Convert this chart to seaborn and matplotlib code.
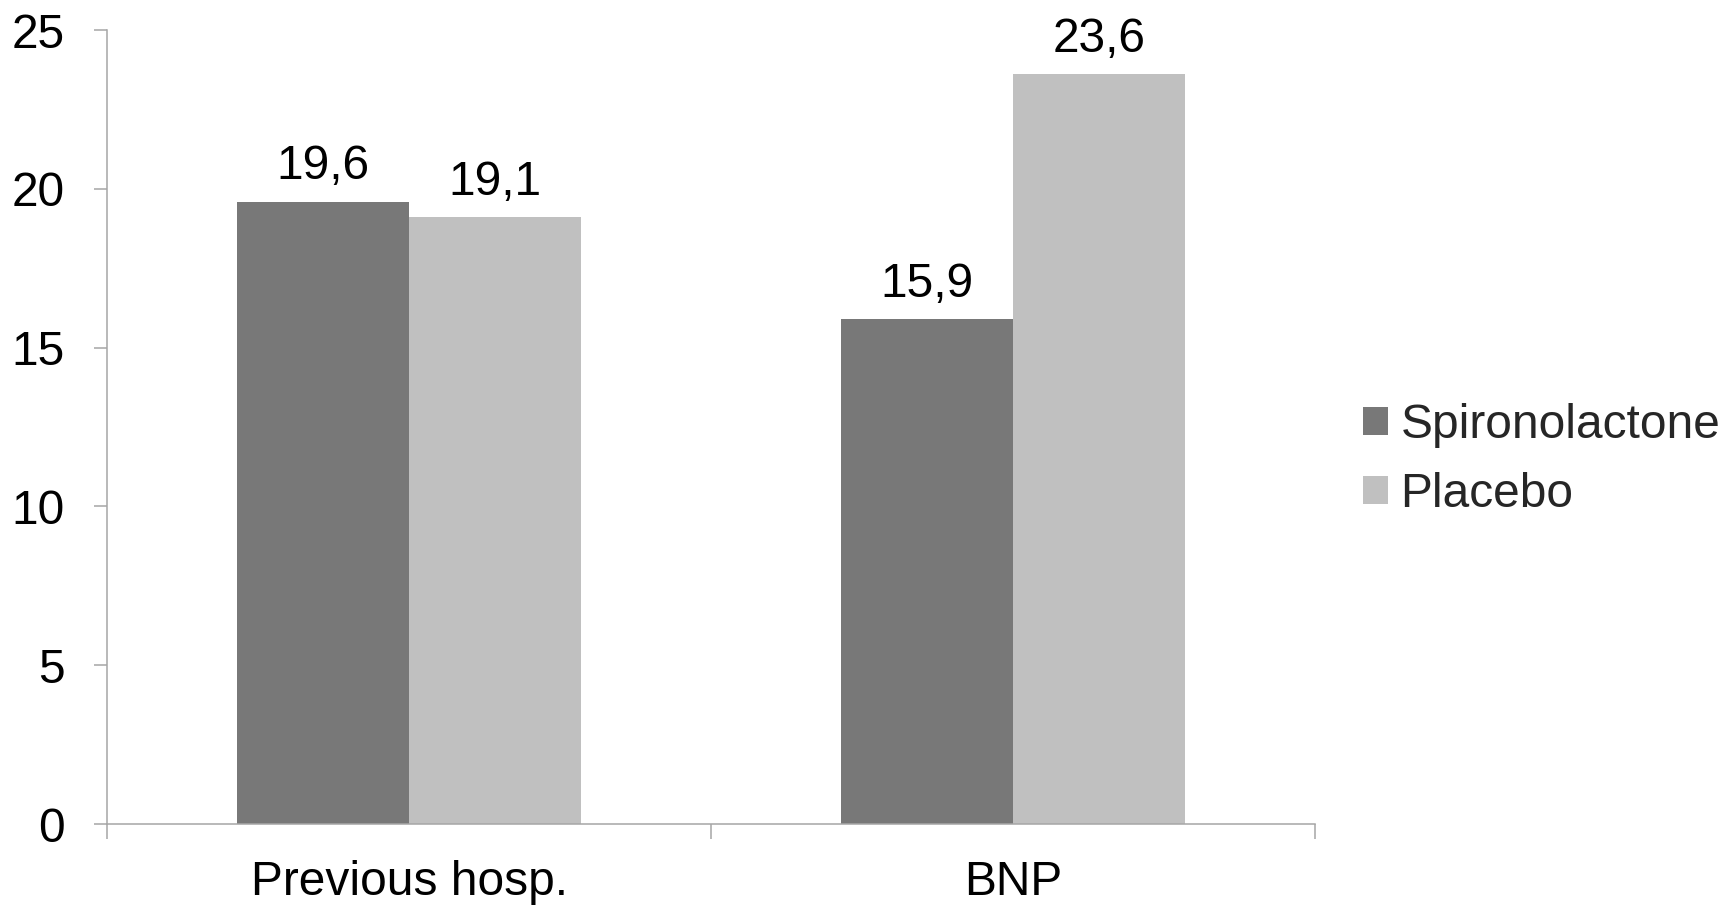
import matplotlib
matplotlib.use("Agg")
import matplotlib.pyplot as plt
import seaborn as sns
import pandas as pd

categories = ["Previous hosp.", "BNP"]
groups = ["Spironolactone", "Placebo"]
spironolactone = [19.6, 15.9]
placebo = [19.1, 23.6]
yticks = [0, 5, 10, 15, 20, 25]

sns.set_theme(style="white")
plt.rcParams["font.family"] = ["Liberation Sans", "DejaVu Sans"]

df = pd.DataFrame({
    "category": categories * 2,
    "group": [groups[0]] * 2 + [groups[1]] * 2,
    "value": spironolactone + placebo,
})

fig = plt.figure(figsize=(17.35, 9.05), dpi=100)
ax = fig.add_axes([107 / 1735, 1 - 824 / 905, (1315 - 107) / 1735, (824 - 30) / 905])

sns.barplot(data=df, x="category", y="value", hue="group", order=categories,
            hue_order=groups, palette=["#787878", "#c0c0c0"], saturation=1,
            width=0.568, ax=ax, errorbar=None, linewidth=0)

fs = 34.5
for cont in ax.containers:
    labs = [f"{b.get_height():.1f}".replace(".", ",") for b in cont]
    ax.bar_label(cont, labels=labs, padding=9, fontsize=fs, color="black")

ax.set_ylim(0, 25)
ax.set_xlim(-0.5, 1.5)
ax.set_yticks(yticks)
ax.set_xlabel("")
ax.set_ylabel("")
spine_c = "#a6a6a6"
for s in ["top", "right"]:
    ax.spines[s].set_visible(False)
for s in ["left", "bottom"]:
    ax.spines[s].set_color(spine_c)
    ax.spines[s].set_linewidth(1.1)

ax.set_xticks([-0.5, 0.5, 1.5], minor=True)
ax.tick_params(axis="x", which="major", length=0, pad=26, labelsize=fs, labelcolor="black")
ax.tick_params(axis="x", which="minor", length=11, width=1.1, color=spine_c, direction="out", bottom=True)
ax.tick_params(axis="y", which="major", length=9.5, width=1.1, color=spine_c, direction="out",
               left=True, pad=21, labelsize=fs, labelcolor="black")

handles, labels = ax.get_legend_handles_labels()
ax.legend(handles, labels, loc="center left", bbox_to_anchor=(1363 / 1735, 1 - 460 / 905),
          bbox_transform=fig.transFigure, frameon=False, fontsize=fs,
          handlelength=0.53, handleheight=0.53, handletextpad=0.25,
          labelspacing=0.5, borderpad=0, borderaxespad=0)

fig.savefig("out.png", dpi=100, facecolor="white")
